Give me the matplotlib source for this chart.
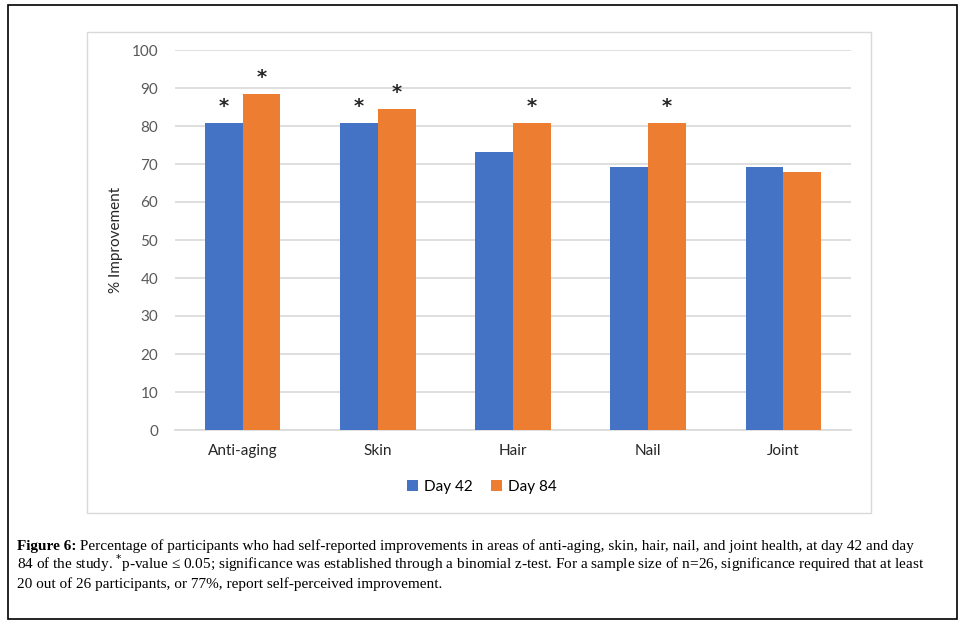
import matplotlib
matplotlib.use("Agg")
import matplotlib.pyplot as plt
from matplotlib.patches import Rectangle
import numpy as np

categories = ["Anti-aging", "Skin", "Hair", "Nail", "Joint"]
day42 = [80.8, 80.8, 73.1, 69.2, 69.2]
day84 = [88.5, 84.6, 80.8, 80.8, 67.9]
sig42 = [True, True, False, False, False]
sig84 = [True, True, True, True, False]
yticks = [0, 10, 20, 30, 40, 50, 60, 70, 80, 90, 100]

caption = [
    "Percentage of participants who had self-reported improvements in areas of anti-aging, skin, hair, nail, and joint health, at day 42 and day",
    "84 of the study. $^{*}$p-value \u2264 0.05; significance was established through a binomial z-test. For a sample size of n=26, significance required that at least",
    "20 out of 26 participants, or 77%, report self-perceived improvement.",
]

BLUE = "#4472C4"
ORANGE = "#ED7D31"
GRID = "#D9D9D9"
TXT = "#595959"
SANS = ["Lato", "DejaVu Sans"]
SERIF = ["Liberation Serif", "DejaVu Serif"]
CAP_FS = 11

W, H = 966, 627
fig = plt.figure(figsize=(W / 100, H / 100), dpi=100)

# outer frame and chart frame
fig.patches.append(Rectangle((8 / W, 1 - 619 / H), 949 / W, 614 / H, transform=fig.transFigure,
                             fill=False, ec="black", lw=1.2))
fig.patches.append(Rectangle((87 / W, 1 - 513 / H), 784 / W, 481 / H, transform=fig.transFigure,
                             fill=False, ec=GRID, lw=1.0))

ax = fig.add_axes([175 / W, 1 - 430 / H, 676 / W, 380 / H])
x = np.arange(len(categories))
bw = 0.28
b1 = ax.bar(x - bw / 2, day42, bw, color=BLUE, label="Day 42", zorder=3)
b2 = ax.bar(x + bw / 2, day84, bw, color=ORANGE, label="Day 84", zorder=3)

# significance markers
for xs, vals, sig in [(x - bw / 2, day42, sig42), (x + bw / 2, day84, sig84)]:
    for xi, v, s in zip(xs, vals, sig):
        if s:
            ax.text(xi, v + 1.8, "*", ha="center", va="bottom", fontsize=14, fontweight="bold",
                    color="#262626", family=["DejaVu Sans"])

ax.set_ylim(0, 100)
ax.set_xlim(-0.5, len(categories) - 0.5)
ax.set_yticks(yticks)
ax.set_xticks(x)
ax.set_xticklabels(categories, fontsize=11, color="#262626", family=SANS)
for lab in ax.get_yticklabels():
    lab.set_family(SANS)
ax.tick_params(axis="y", length=0, labelsize=11, labelcolor=TXT, pad=12)
ax.tick_params(axis="x", length=0, pad=10)
ax.grid(axis="y", color=GRID, lw=1.2, zorder=0)
for sp in ["top", "right", "left"]:
    ax.spines[sp].set_visible(False)
ax.spines["bottom"].set_color(GRID)
ax.spines["bottom"].set_linewidth(1.2)
ax.set_ylabel("% Improvement", fontsize=11, color="#262626", family=SANS, labelpad=6)

fig.legend(handles=[b1, b2], loc="center", bbox_to_anchor=(482 / W, 1 - 487 / H), ncol=2,
           frameon=False, prop={"family": SANS, "size": 11}, handlelength=0.7, handleheight=0.7,
           columnspacing=1.2, handletextpad=0.4)

# caption
head = fig.text(17 / W, 1 - 550 / H, "Figure 6:", fontsize=CAP_FS, fontweight="bold", family=SERIF,
                va="baseline", ha="left")
fig.text(0, 0, " " + caption[0], fontsize=CAP_FS, family=SERIF, va="baseline", ha="left",
         transform=head.get_transform() + matplotlib.transforms.Affine2D())
fig.texts[-1].remove()
ax.annotate(" " + caption[0], xy=(1, 0), xycoords=head, xytext=(0, 0), textcoords="offset points",
            fontsize=CAP_FS, family=SERIF, va="bottom", ha="left", annotation_clip=False)
fig.text(17 / W, 1 - 569 / H, caption[1], fontsize=CAP_FS, family=SERIF, va="baseline", ha="left")
fig.text(17 / W, 1 - 588 / H, caption[2], fontsize=CAP_FS, family=SERIF, va="baseline", ha="left")

fig.savefig("out.png", dpi=100)
